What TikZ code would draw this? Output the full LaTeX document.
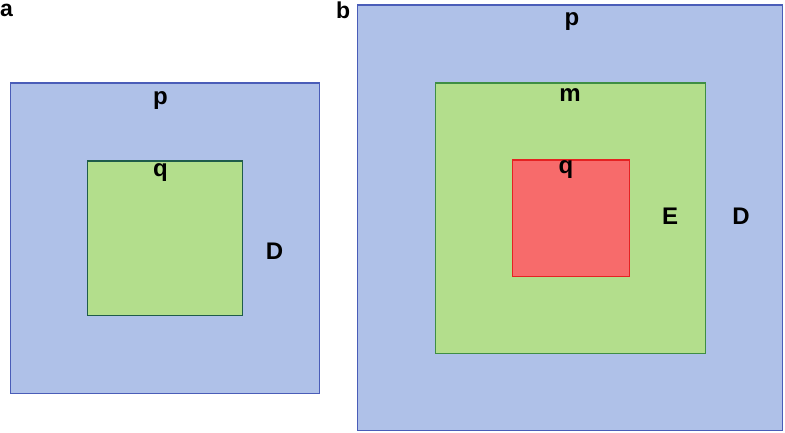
\documentclass[tikz,border=0pt]{standalone}
\usepackage{fontspec}
\setmainfont{Liberation Sans}
\definecolor{bluefill}{HTML}{AFC1E8}
\definecolor{blueline}{HTML}{4A5DB8}
\definecolor{greenfill}{HTML}{B3DE8C}
\definecolor{greenlineA}{HTML}{1F5C4A}
\definecolor{greenlineB}{HTML}{3E8E44}
\definecolor{redfill}{HTML}{F76B6B}
\definecolor{redline}{HTML}{E52222}
\tikzset{
  box/.style={rectangle, anchor=north west, inner sep=0pt, line width=1.5pt},
  bluebox/.style={box, fill=bluefill, draw=blueline},
  greenboxA/.style={box, fill=greenfill, draw=greenlineA},
  greenboxB/.style={box, fill=greenfill, draw=greenlineB},
  redbox/.style={box, fill=redfill, draw=redline},
  lbl/.style={font=\bfseries\fontsize{24}{26}\selectfont, inner sep=0pt, anchor=base},
  panel/.style={font=\bfseries\fontsize{23}{25}\selectfont, inner sep=0pt, anchor=base west}
}
\begin{document}
\begin{tikzpicture}[x=1pt,y=-1pt]
\useasboundingbox (0,0) rectangle (785,433);
% panel a
\node[panel] (pa) at (0,17) {a};
\node[bluebox, minimum width=309pt, minimum height=310pt] (Da) at (9.5,82.5) {};
\node[greenboxA, minimum width=155pt, minimum height=154pt] (qa) at (86.5,160.5) {};
\node[lbl] (pA) at (160.5,105) {p};
\node[lbl] (qA) at (160.5,177) {q};
\node[lbl] (dA) at (274.5,259) {D};
% panel b
\node[panel] (pb) at (336,19) {b};
\node[bluebox, minimum width=425pt, minimum height=425pt] (Db) at (356.5,4.5) {};
\node[greenboxB, minimum width=270pt, minimum height=270pt] (Eb) at (434.5,82.5) {};
\node[redbox, minimum width=117pt, minimum height=116pt] (qb) at (511.5,159.5) {};
\node[lbl] (pB) at (572,26) {p};
\node[lbl] (mB) at (570,102) {m};
\node[lbl] (qB) at (566,174) {q};
\node[lbl] (eB) at (670,225) {E};
\node[lbl] (dB) at (741,225) {D};
\end{tikzpicture}
\end{document}
